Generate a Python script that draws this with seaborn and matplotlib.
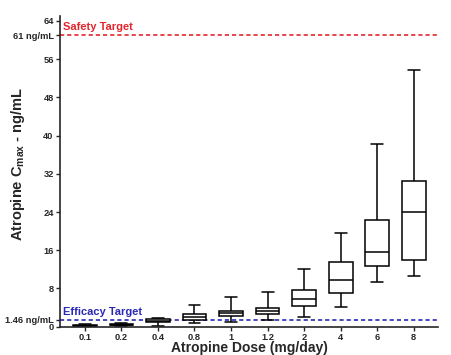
import pandas as pd
import matplotlib
matplotlib.use('Agg')
import matplotlib.pyplot as plt
import seaborn as sns

# doses and five-number summaries (min, q1, median, q3, max)
doses = ['0.1', '0.2', '0.4', '0.8', '1', '1.2', '2', '4', '6', '8']
low = [0.05, 0.05, 0.2, 0.7, 1.05, 1.4, 2.0, 4.2, 9.4, 10.7]
q1 = [0.1, 0.3, 1.05, 1.4, 2.25, 2.65, 4.3, 7.05, 12.6, 13.9]
med = [0.2, 0.45, 1.25, 2.1, 2.8, 3.35, 5.9, 9.8, 15.7, 24.1]
q3 = [0.35, 0.65, 1.55, 2.6, 3.35, 3.85, 7.6, 13.5, 22.3, 30.5]
high = [0.5, 0.85, 1.9, 4.6, 6.2, 7.3, 12.0, 19.7, 38.2, 53.8]

safety = 61
efficacy = 1.46

rows = []
for i, d in enumerate(doses):
    for v in (low[i], q1[i], med[i], q3[i], high[i]):
        rows.append({'dose': d, 'cmax': v})
data = pd.DataFrame(rows)

sns.set_style('ticks')
plt.rcParams['font.family'] = ['Liberation Sans', 'DejaVu Sans']
plt.rcParams['mathtext.fontset'] = 'custom'
plt.rcParams['mathtext.rm'] = 'Liberation Sans'

fig = plt.figure(figsize=(4.51, 3.55), dpi=100)
ax = fig.add_axes([0.133, 0.0797, 0.838, 0.875])

sns.boxplot(data=data, x='dose', y='cmax', order=doses, whis=(0, 100),
            width=0.65, color='white', linecolor='black', linewidth=1.1,
            fliersize=0, ax=ax)

ax.axhline(safety, color='#e3262d', ls=(0, (2.5, 1.8)), lw=1.2, zorder=0)
ax.axhline(efficacy, color='#2a2ab5', ls=(0, (2.5, 1.8)), lw=1.2, zorder=0)
ax.text(-0.6, safety + 0.6, 'Safety Target', color='#e3262d', fontsize=8,
        fontweight='bold', va='bottom', ha='left')
ax.text(-0.6, efficacy + 0.6, 'Efficacy Target', color='#2a2ab5', fontsize=8,
        fontweight='bold', va='bottom', ha='left')

ax.set_xlim(-0.68, 9.66)
ax.set_ylim(0, 65)
yt = [0, 8, 16, 24, 32, 40, 48, 56, 64, safety, efficacy]
yl = ['0', '8', '16', '24', '32', '40', '48', '56', '64', '61 ng/mL', '1.46 ng/mL']
ax.set_yticks(yt)
ax.set_yticklabels(yl)
ax.tick_params(axis='both', labelsize=6.7, length=3, width=1, pad=1.5)
for lab in ax.get_xticklabels() + ax.get_yticklabels():
    lab.set_fontweight('bold')

ax.set_xlabel('Atropine Dose (mg/day)', fontsize=10, fontweight='bold', labelpad=-0.5)
ax.set_ylabel('Atropine C$_{\\mathregular{max}}$ - ng/mL', fontsize=10.5,
              fontweight='bold')
ax.yaxis.set_label_coords(-0.087, 0.524)

for s in ['left', 'bottom']:
    ax.spines[s].set_linewidth(1.2)
sns.despine(ax=ax)

fig.savefig('out.png', dpi=100)
